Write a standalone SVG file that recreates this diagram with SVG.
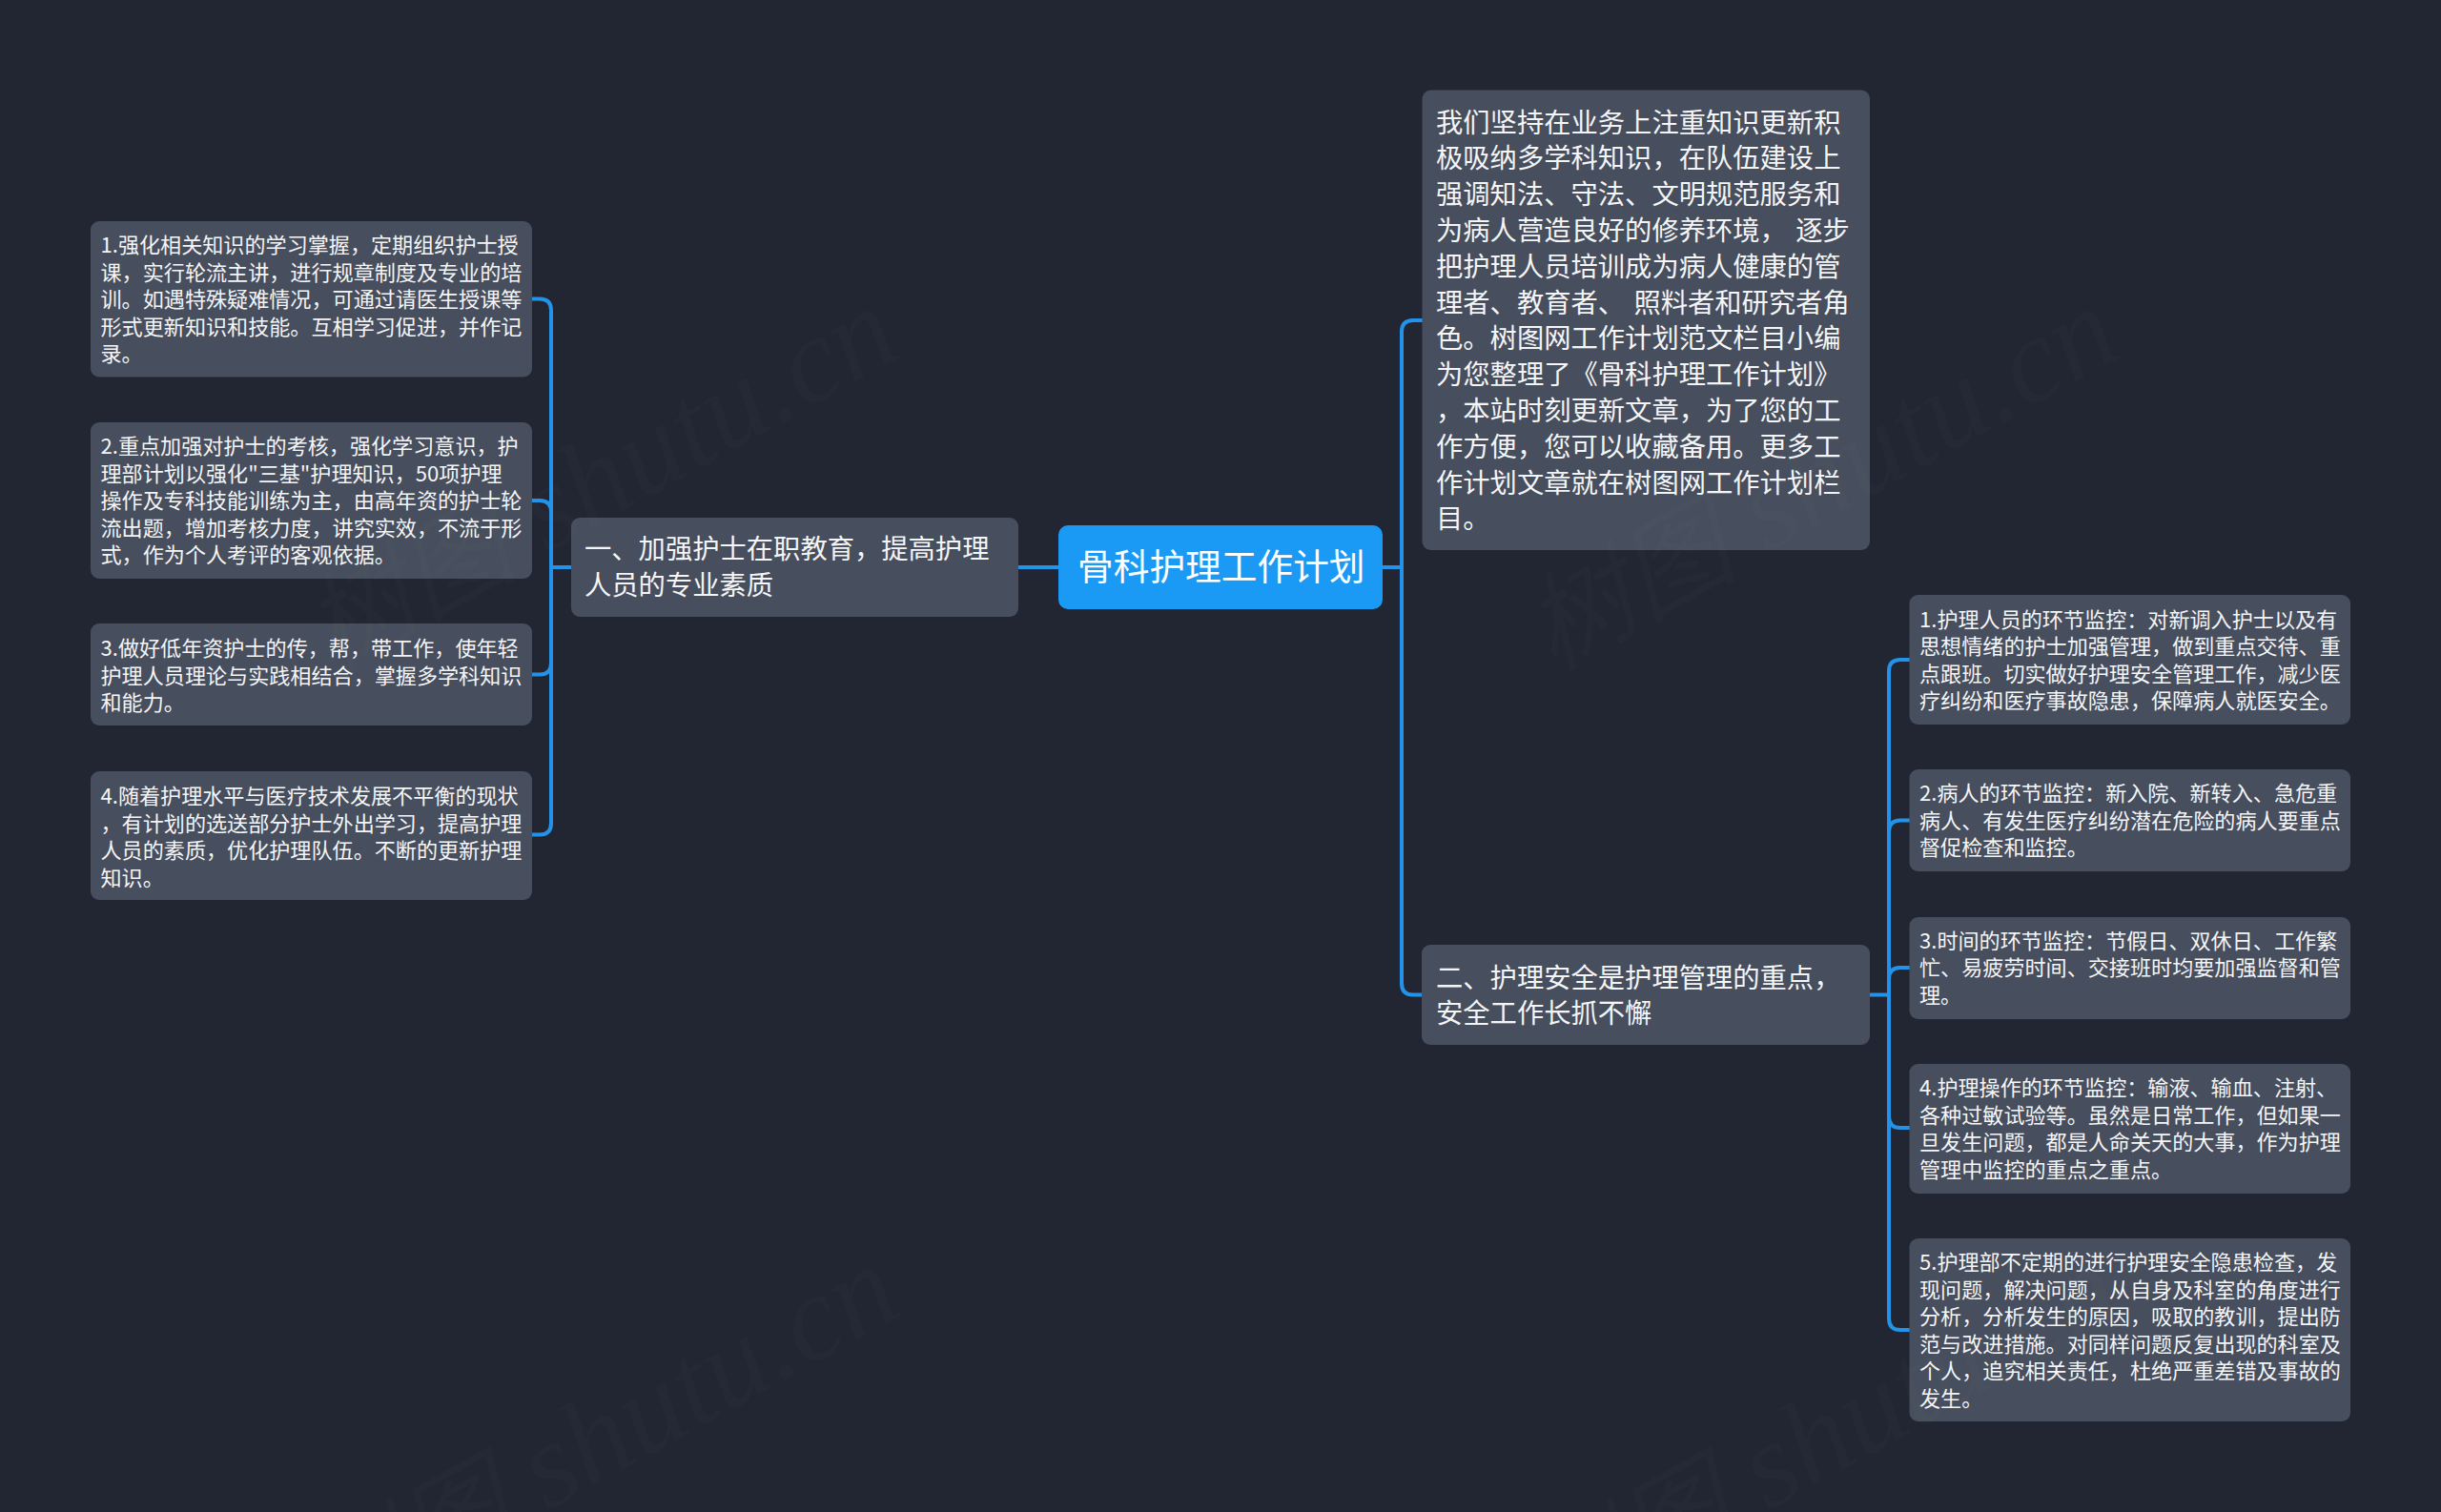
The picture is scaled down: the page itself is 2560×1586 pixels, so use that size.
<svg xmlns="http://www.w3.org/2000/svg" width="2560" height="1586" viewBox="0 0 2560 1586">
<style>
text{font-family:"Noto Sans CJK SC","Noto Sans",sans-serif;fill:#f4f5f7}
text.wm{font-family:"Liberation Serif","Noto Sans CJK SC",serif;font-style:italic;font-size:128px;text-anchor:end;fill:#8a8a80;fill-opacity:.036}
.wm tspan{font-size:112px}
.box{fill:#474e5d}
.root{fill:#1b9af5}
.c{fill:none;stroke:#2393ea;stroke-width:4}
.s{font-size:22.1px}
.m{font-size:28.3px}
.r{font-size:37.7px;fill:#fff}
</style>
<rect width="2560" height="1586" fill="#212632"/>
<g id="connectors">
<path class="c" d="M1068 595H1110"/>
<path class="c" d="M1450 595H1470"/>
<path class="c" d="M1470 595V348Q1470 336 1482 336H1492"/>
<path class="c" d="M1470 595V1031.500Q1470 1043.500 1482 1043.500H1492"/>
<path class="c" d="M599 595H578"/>
<path class="c" d="M578 595V325.500Q578 313.500 566 313.500H558"/>
<path class="c" d="M578 595V537Q578 525 566 525H558"/>
<path class="c" d="M578 595V695.500Q578 707.500 566 707.500H558"/>
<path class="c" d="M578 595V863.500Q578 875.500 566 875.500H558"/>
<path class="c" d="M1961 1043.500H1981"/>
<path class="c" d="M1981 1043.500V704Q1981 692 1993 692H2003"/>
<path class="c" d="M1981 1043.500V872.500Q1981 860.500 1993 860.500H2003"/>
<path class="c" d="M1981 1043.500V1027Q1981 1015 1993 1015H2003"/>
<path class="c" d="M1981 1043.500V1171Q1981 1183 1993 1183H2003"/>
<path class="c" d="M1981 1043.500V1383Q1981 1395 1993 1395H2003"/>
</g>
<g id="root">
<rect class="root" x="1110" y="551" width="340" height="88" rx="10"/>
<text class="r" x="1130" y="608">骨科护理工作计划</text>
</g>
<g id="branch-1">
<rect class="box" x="599" y="543" width="469" height="104" rx="9"/>
<text class="m"><tspan x="613" y="585.500">一、加强护士在职教育，提高护理</tspan><tspan x="613" y="623.500">人员的专业素质</tspan></text>
</g>
<g id="intro">
<rect class="box" x="1491.500" y="94.500" width="469.500" height="482.500" rx="9"/>
<text class="m"><tspan x="1506" y="138.500">我们坚持在业务上注重知识更新积</tspan><tspan x="1506" y="176.300">极吸纳多学科知识，在队伍建设上</tspan><tspan x="1506" y="214.100">强调知法、守法、文明规范服务和</tspan><tspan x="1506" y="251.900">为病人营造良好的修养环境， </tspan><tspan dx="3">逐步</tspan><tspan x="1506" y="289.700">把护理人员培训成为病人健康的管</tspan><tspan x="1506" y="327.500">理者、教育者、 </tspan><tspan dx="3">照料者和研究者角</tspan><tspan x="1506" y="365.300">色。树图网工作计划范文栏目小编</tspan><tspan x="1506" y="403.100">为您整理了《骨科护理工作计划》</tspan><tspan x="1506" y="440.900">，本站时刻更新文章，为了您的工</tspan><tspan x="1506" y="478.700">作方便，您可以收藏备用。更多工</tspan><tspan x="1506" y="516.500">作计划文章就在树图网工作计划栏</tspan><tspan x="1506" y="554.300">目。</tspan></text>
</g>
<g id="branch-2">
<rect class="box" x="1491" y="991" width="470" height="105" rx="9"/>
<text class="m"><tspan x="1506" y="1036">二、护理安全是护理管理的重点，</tspan><tspan x="1506" y="1073">安全工作长抓不懈</tspan></text>
</g>
<g id="left-1">
<rect class="box" x="95" y="232" width="463" height="163.500" rx="9"/>
<text class="s"><tspan x="105.500" y="265">1.强化相关知识的学习掌握，定期组织护士授</tspan><tspan x="105.500" y="293.600">课，实行轮流主讲，进行规章制度及专业的培</tspan><tspan x="105.500" y="322.200">训。如遇特殊疑难情况，可通过请医生授课等</tspan><tspan x="105.500" y="350.800">形式更新知识和技能。互相学习促进，并作记</tspan><tspan x="105.500" y="379.400">录。</tspan></text>
</g>
<g id="left-2">
<rect class="box" x="95" y="443" width="463" height="164" rx="9"/>
<text class="s"><tspan x="105.500" y="476">2.重点加强对护士的考核，强化学习意识，护</tspan><tspan x="105.500" y="504.600">理部计划以强化"三基"护理知识，50项护理</tspan><tspan x="105.500" y="533.200">操作及专科技能训练为主，由高年资的护士轮</tspan><tspan x="105.500" y="561.800">流出题，增加考核力度，讲究实效，不流于形</tspan><tspan x="105.500" y="590.400">式，作为个人考评的客观依据。</tspan></text>
</g>
<g id="left-3">
<rect class="box" x="95" y="654" width="463" height="107" rx="9"/>
<text class="s"><tspan x="105.500" y="688">3.做好低年资护士的传，帮，带工作，使年轻</tspan><tspan x="105.500" y="716.600">护理人员理论与实践相结合，掌握多学科知识</tspan><tspan x="105.500" y="745.200">和能力。</tspan></text>
</g>
<g id="left-4">
<rect class="box" x="95" y="809" width="463" height="135" rx="9"/>
<text class="s"><tspan x="105.500" y="843">4.随着护理水平与医疗技术发展不平衡的现状</tspan><tspan x="105.500" y="871.600">，有计划的选送部分护士外出学习，提高护理</tspan><tspan x="105.500" y="900.200">人员的素质，优化护理队伍。不断的更新护理</tspan><tspan x="105.500" y="928.800">知识。</tspan></text>
</g>
<g id="right-1">
<rect class="box" x="2002.500" y="624" width="462.500" height="136" rx="9"/>
<text class="s"><tspan x="2013" y="657.800">1.护理人员的环节监控：对新调入护士以及有</tspan><tspan x="2013" y="686.300">思想情绪的护士加强管理，做到重点交待、重</tspan><tspan x="2013" y="714.800">点跟班。切实做好护理安全管理工作，减少医</tspan><tspan x="2013" y="743.300">疗纠纷和医疗事故隐患，保障病人就医安全。</tspan></text>
</g>
<g id="right-2">
<rect class="box" x="2002.500" y="807" width="462.500" height="107" rx="9"/>
<text class="s"><tspan x="2013" y="840.300">2.病人的环节监控：新入院、新转入、急危重</tspan><tspan x="2013" y="868.800">病人、有发生医疗纠纷潜在危险的病人要重点</tspan><tspan x="2013" y="897.300">督促检查和监控。</tspan></text>
</g>
<g id="right-3">
<rect class="box" x="2002.500" y="962" width="462.500" height="107" rx="9"/>
<text class="s"><tspan x="2013" y="994.800">3.时间的环节监控：节假日、双休日、工作繁</tspan><tspan x="2013" y="1023.300">忙、易疲劳时间、交接班时均要加强监督和管</tspan><tspan x="2013" y="1051.800">理。</tspan></text>
</g>
<g id="right-4">
<rect class="box" x="2002.500" y="1116" width="462.500" height="136" rx="9"/>
<text class="s"><tspan x="2013" y="1149.300">4.护理操作的环节监控：输液、输血、注射、</tspan><tspan x="2013" y="1177.800">各种过敏试验等。虽然是日常工作，但如果一</tspan><tspan x="2013" y="1206.300">旦发生问题，都是人命关天的大事，作为护理</tspan><tspan x="2013" y="1234.800">管理中监控的重点之重点。</tspan></text>
</g>
<g id="right-5">
<rect class="box" x="2002.500" y="1299" width="462.500" height="192" rx="9"/>
<text class="s"><tspan x="2013" y="1332.300">5.护理部不定期的进行护理安全隐患检查，发</tspan><tspan x="2013" y="1360.800">现问题，解决问题，从自身及科室的角度进行</tspan><tspan x="2013" y="1389.300">分析，分析发生的原因，吸取的教训，提出防</tspan><tspan x="2013" y="1417.800">范与改进措施。对同样问题反复出现的科室及</tspan><tspan x="2013" y="1446.300">个人，追究相关责任，杜绝严重差错及事故的</tspan><tspan x="2013" y="1474.800">发生。</tspan></text>
</g>
<g id="watermarks">
<text class="wm" transform="translate(949 372) rotate(-29)"><tspan>树图</tspan> shutu.cn</text>
<text class="wm" transform="translate(2229 372) rotate(-29)"><tspan>树图</tspan> shutu.cn</text>
<text class="wm" transform="translate(950 1377) rotate(-29)"><tspan>树图</tspan> shutu.cn</text>
<text class="wm" transform="translate(2230 1377) rotate(-29)"><tspan>树图</tspan> shutu.cn</text>
</g>
</svg>
